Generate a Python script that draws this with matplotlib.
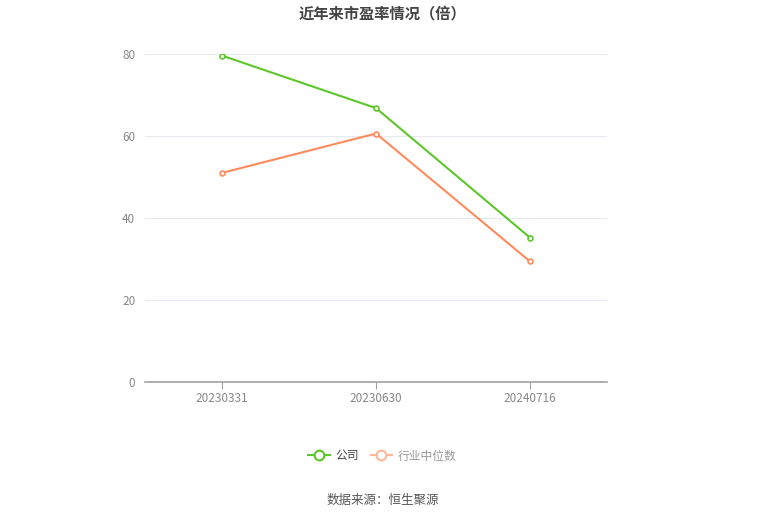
import matplotlib.pyplot as plt
from matplotlib.lines import Line2D

plt.rcParams['font.family'] = ['Noto Sans CJK SC', 'DejaVu Sans']

dates = ['20230331', '20230630', '20240716']
company = [79.6, 66.8, 35.2]
industry = [51.0, 60.6, 29.4]
yticks = [0, 20, 40, 60, 80]

green = '#5cc72a'
orange = '#ff8a5c'

fig = plt.figure(figsize=(7.65, 5.17), dpi=100)
ax = fig.add_axes([0.1895, 0.2611, 0.604, 0.6345])

x = range(len(dates))
ax.plot(x, company, color=green, lw=1.5, marker='o', ms=3.5, mfc='white', mew=1.2, zorder=3)
ax.plot(x, industry, color=orange, lw=1.5, marker='o', ms=3.5, mfc='white', mew=1.2, zorder=3)

ax.set_xlim(-0.5, 2.5)
ax.set_ylim(0, 80)
ax.set_xticks(list(x))
ax.set_xticklabels(dates)
ax.set_yticks(yticks)
ax.grid(axis='y', color='#e6e9f0', lw=0.8)
ax.set_axisbelow(True)
for s in ['top', 'right', 'left']:
    ax.spines[s].set_visible(False)
ax.spines['bottom'].set_color('#a0a0a8')
ax.spines['bottom'].set_linewidth(1.2)
ax.tick_params(axis='x', colors='#a0a0a8', length=5, labelcolor='#888888', labelsize=8.5, pad=2)
ax.tick_params(axis='y', length=0, labelcolor='#888888', labelsize=8.5, pad=7)

fig.text(0.5, 0.974, '近年来市盈率情况（倍）', ha='center', va='center',
         fontsize=11, fontweight='bold', color='#444444')

handles = [
    Line2D([], [], color=green, lw=1.5, marker='o', ms=7, mfc='white', mew=1.5),
    Line2D([], [], color='#ffb89a', lw=1.5, marker='o', ms=7, mfc='white', mew=1.5),
]
leg = fig.legend(handles, ['公司', '行业中位数'], loc='center', bbox_to_anchor=(0.5, 0.118),
                 ncol=2, frameon=False, fontsize=8.5, handlelength=1.8, columnspacing=1.0,
                 handletextpad=0.5)
leg.get_texts()[0].set_color('#444444')
leg.get_texts()[1].set_color('#999999')

fig.text(0.5, 0.033, '数据来源：恒生聚源', ha='center', va='center', fontsize=9, color='#555555')

fig.savefig('out.png', dpi=100)
